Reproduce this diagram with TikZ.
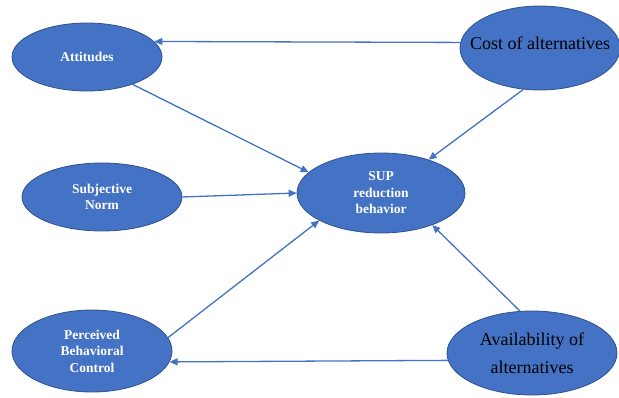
\documentclass[tikz,border=0pt]{standalone}
\usepackage{fontspec}
\setmainfont{Liberation Serif}
\usepackage{xcolor}
\definecolor{nodeblue}{HTML}{4472C4}
\definecolor{nodeedge}{HTML}{2F528F}
\definecolor{arrowblue}{HTML}{4472C4}
\usetikzlibrary{shapes.geometric, arrows.meta}

\begin{document}
\begin{tikzpicture}[
  x=1pt, y=-1pt,
  construct/.style={ellipse, fill=nodeblue, draw=nodeedge, line width=0.8pt,
                    align=center, inner sep=0pt},
  theory/.style={construct, text=white, font=\bfseries\fontsize{13.5}{16.5}\selectfont},
  extra/.style={construct, text=black, inner xsep=-20pt, font=\fontsize{18}{28}\selectfont},
  arr/.style={-{Triangle[length=8pt, width=7pt]}, line width=1.3pt, draw=arrowblue}
]
\useasboundingbox (0,0) rectangle (619,397);

\node[theory, minimum width=150pt, minimum height=68pt] (att) at (87,57) {Attitudes};
\node[theory, minimum width=160pt, minimum height=68pt] (norm) at (102,197) {Subjective\\Norm};
\node[theory, minimum width=160pt, minimum height=82pt] (pbc) at (92,351) {Perceived\\Behavioral\\Control};
\node[theory, minimum width=168pt, minimum height=80pt] (sup) at (381,193) {SUP\\reduction\\behavior};
\node[extra, minimum width=160pt, minimum height=84pt, text depth=10pt] (cost) at (540,48) {Cost of alternatives};
\node[extra, minimum width=170pt, minimum height=84pt] (avail) at (532,353) {Availability of\\alternatives};

\draw[arr] (cost.176) -- (att.13);
\draw[arr] (att.-31) -- (sup.164);
\draw[arr] (norm.east) -- (sup.west);
\draw[arr] (pbc.10) -- (sup.204);
\draw[arr] (cost.248) -- (sup.35);
\draw[arr] (avail.106) -- (sup.-32);
\draw[arr] (avail.185) -- (pbc.-8);
\end{tikzpicture}
\end{document}
